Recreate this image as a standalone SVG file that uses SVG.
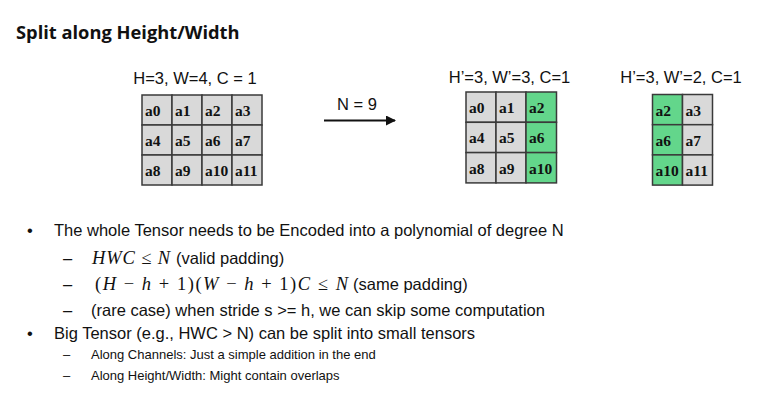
<svg xmlns="http://www.w3.org/2000/svg" width="773" height="400" viewBox="0 0 773 400">
  <style>
    .title { font-family: "Open Sans", "Liberation Sans", sans-serif; font-weight: bold; font-size: 18.3px; fill: #111; }
    .lbl { font-family: "Liberation Sans", Arial, sans-serif; font-size: 16.5px; fill: #111; }
    .body { font-family: "Liberation Sans", Arial, sans-serif; font-size: 16.5px; fill: #111; }
    .small { font-family: "Liberation Sans", Arial, sans-serif; font-size: 13px; fill: #111; }
    .math { font-family: "Liberation Serif", "Times New Roman", serif; font-size: 18.5px; fill: #111; }
    .mi { font-style: italic; }
    .cell { fill: #d9d9d9; stroke: #3a3a3a; stroke-width: 1.5; }
    .cell.g { fill: #63d68b; }
    .ct { font-family: "Liberation Serif", "Times New Roman", serif; font-weight: bold; font-size: 15.5px; fill: #111; }
  </style>
  <defs>
    <marker id="ah" viewBox="0 0 10 10" refX="9" refY="5" markerWidth="5" markerHeight="5" orient="auto" markerUnits="strokeWidth">
      <path d="M0,0 L10,5 L0,10 z" fill="#111"/>
    </marker>
  </defs>

  <text class="title" x="16" y="38.5">Split along Height/Width</text>

  <!-- Grid 1 -->
  <g id="tensor-full">
    <text class="lbl" x="195" y="83.5" text-anchor="middle">H=3, W=4, C = 1</text>
    <g transform="translate(142,95)">
      <rect class="cell" x="0" y="0" width="30" height="30"/>
      <rect class="cell" x="30" y="0" width="30" height="30"/>
      <rect class="cell" x="60" y="0" width="30" height="30"/>
      <rect class="cell" x="90" y="0" width="30" height="30"/>
      <rect class="cell" x="0" y="30" width="30" height="30"/>
      <rect class="cell" x="30" y="30" width="30" height="30"/>
      <rect class="cell" x="60" y="30" width="30" height="30"/>
      <rect class="cell" x="90" y="30" width="30" height="30"/>
      <rect class="cell" x="0" y="60" width="30" height="30"/>
      <rect class="cell" x="30" y="60" width="30" height="30"/>
      <rect class="cell" x="60" y="60" width="30" height="30"/>
      <rect class="cell" x="90" y="60" width="30" height="30"/>
      <text class="ct" x="3" y="21">a0</text>
      <text class="ct" x="33" y="21">a1</text>
      <text class="ct" x="63" y="21">a2</text>
      <text class="ct" x="93" y="21">a3</text>
      <text class="ct" x="3" y="51">a4</text>
      <text class="ct" x="33" y="51">a5</text>
      <text class="ct" x="63" y="51">a6</text>
      <text class="ct" x="93" y="51">a7</text>
      <text class="ct" x="3" y="81">a8</text>
      <text class="ct" x="33" y="81">a9</text>
      <text class="ct" x="63" y="81">a10</text>
      <text class="ct" x="93" y="81">a11</text>
    </g>
  </g>

  <!-- Grid 2 -->
  <g id="tensor-left">
    <text class="lbl" x="509.5" y="82.5" text-anchor="middle">H’=3, W’=3, C=1</text>
    <g transform="translate(466,92)">
      <rect class="cell" x="0" y="0" width="30" height="30.3"/>
      <rect class="cell" x="30" y="0" width="30" height="30.3"/>
      <rect class="cell g" x="60" y="0" width="30.5" height="30.3"/>
      <rect class="cell" x="0" y="30.3" width="30" height="30.3"/>
      <rect class="cell" x="30" y="30.3" width="30" height="30.3"/>
      <rect class="cell g" x="60" y="30.3" width="30.5" height="30.3"/>
      <rect class="cell" x="0" y="60.6" width="30" height="30.3"/>
      <rect class="cell" x="30" y="60.6" width="30" height="30.3"/>
      <rect class="cell g" x="60" y="60.6" width="30.5" height="30.3"/>
      <text class="ct" x="3" y="21">a0</text>
      <text class="ct" x="33" y="21">a1</text>
      <text class="ct" x="63" y="21">a2</text>
      <text class="ct" x="3" y="51.3">a4</text>
      <text class="ct" x="33" y="51.3">a5</text>
      <text class="ct" x="63" y="51.3">a6</text>
      <text class="ct" x="3" y="81.6">a8</text>
      <text class="ct" x="33" y="81.6">a9</text>
      <text class="ct" x="63" y="81.6">a10</text>
    </g>
  </g>

  <!-- Grid 3 -->
  <g id="tensor-right">
    <text class="lbl" x="681" y="82.5" text-anchor="middle">H’=3, W’=2, C=1</text>
    <g transform="translate(652.5,94.5)">
      <rect class="cell g" x="0" y="0" width="30" height="30.2"/>
      <rect class="cell" x="30" y="0" width="30" height="30.2"/>
      <rect class="cell g" x="0" y="30.2" width="30" height="30.2"/>
      <rect class="cell" x="30" y="30.2" width="30" height="30.2"/>
      <rect class="cell g" x="0" y="60.4" width="30" height="30.2"/>
      <rect class="cell" x="30" y="60.4" width="30" height="30.2"/>
      <text class="ct" x="3" y="21">a2</text>
      <text class="ct" x="33" y="21">a3</text>
      <text class="ct" x="3" y="51.2">a6</text>
      <text class="ct" x="33" y="51.2">a7</text>
      <text class="ct" x="3" y="81.4">a10</text>
      <text class="ct" x="33" y="81.4">a11</text>
    </g>
  </g>

  <!-- Connector -->
  <g id="connectors">
    <line x1="324" y1="120.5" x2="395" y2="120.5" stroke="#111" stroke-width="2" marker-end="url(#ah)"/>
    <text class="lbl" x="357" y="110" text-anchor="middle">N = 9</text>
  </g>

  <!-- Bullet text -->
  <text class="body" x="27" y="235.5">•</text>
  <text class="body" x="54" y="235.5">The whole Tensor needs to be Encoded into a polynomial of degree N</text>

  <text class="body" x="63" y="264">–</text>
  <text class="math" x="92" y="264" textLength="78" lengthAdjust="spacing"><tspan class="mi">HWC</tspan> ≤ <tspan class="mi">N</tspan></text>
  <text class="body" x="176" y="264">(valid padding)</text>

  <text class="body" x="63" y="290">–</text>
  <text class="math" x="95" y="290" textLength="253" lengthAdjust="spacing">(<tspan class="mi">H</tspan> − <tspan class="mi">h</tspan> + 1)(<tspan class="mi">W</tspan> − <tspan class="mi">h</tspan> + 1)<tspan class="mi">C</tspan> ≤ <tspan class="mi">N</tspan></text>
  <text class="body" x="353" y="290">(same padding)</text>

  <text class="body" x="63" y="315.5">–</text>
  <text class="body" x="91" y="315.5">(rare case) when stride s &gt;= h, we can skip some computation</text>

  <text class="body" x="27" y="338.5">•</text>
  <text class="body" x="54" y="338.5">Big Tensor (e.g., HWC &gt; N) can be split into small tensors</text>

  <text class="small" x="63" y="359">–</text>
  <text class="small" x="91" y="359">Along Channels: Just a simple addition in the end</text>
  <text class="small" x="63" y="380">–</text>
  <text class="small" x="91" y="380">Along Height/Width: Might contain overlaps</text>
</svg>
